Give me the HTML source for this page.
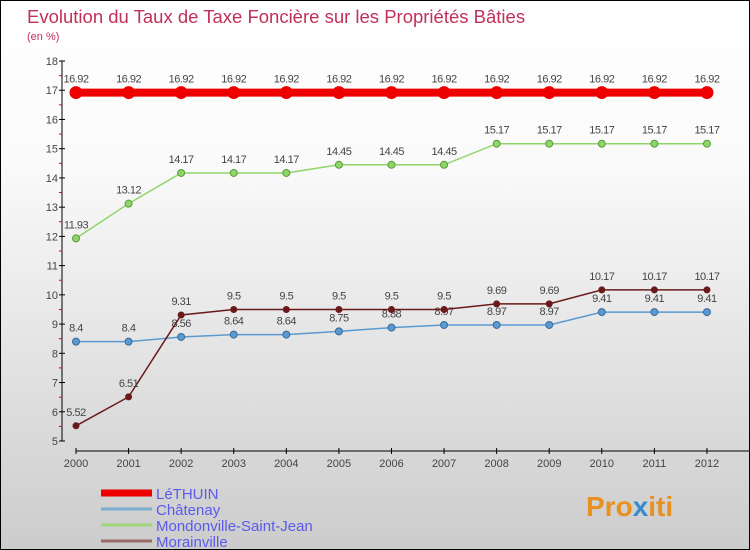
<!DOCTYPE html>
<html><head><meta charset="utf-8"><style>
body{margin:0}
#c{width:750px;height:550px;position:relative;background:linear-gradient(#fff,#fafafa 30%,#ccc);border:1px solid #000;box-sizing:border-box;overflow:hidden;font-family:"Liberation Sans",sans-serif}
</style></head><body>
<div id="c">
<svg id="s" width="750" height="550" xmlns="http://www.w3.org/2000/svg">
<text x="26" y="22" font-size="18.5" fill="#c0305a">Evolution du Taux de Taxe Foncière sur les Propriétés Bâties</text>
<text x="26" y="39" font-size="11" fill="#c0305a">(en %)</text>
<text x="585" y="515" font-size="28" font-weight="bold" fill="#e89020">Pro<tspan fill="#3a8ad0">x</tspan>iti</text>
</svg>
</div>
<script>
const years=[2000,2001,2002,2003,2004,2005,2006,2007,2008,2009,2010,2011,2012];
const yTicks=[5,6,7,8,9,10,11,12,13,14,15,16,17,18];
const seriesNames=["LéTHUIN","Châtenay","Mondonville-Saint-Jean","Morainville"];
const lethuin=[16.92,16.92,16.92,16.92,16.92,16.92,16.92,16.92,16.92,16.92,16.92,16.92,16.92];
const chatenay=[8.4,8.4,8.56,8.64,8.64,8.75,8.88,8.97,8.97,8.97,9.41,9.41,9.41];
const mondonville=[11.93,13.12,14.17,14.17,14.17,14.45,14.45,14.45,15.17,15.17,15.17,15.17,15.17];
const morainville=[5.52,6.51,9.31,9.5,9.5,9.5,9.5,9.5,9.69,9.69,10.17,10.17,10.17];
const s=document.getElementById('s');const NS="http://www.w3.org/2000/svg";
function X(i){return 75+i*52.58}
function Y(v){return 440-(v-5)*29.23}
function mk(t,a,p){const e=document.createElementNS(NS,t);for(const k in a)e.setAttribute(k,a[k]);(p||s).appendChild(e);return e}
let ax=mk('line',{x1:61,y1:60,x2:61,y2:440,stroke:'#000'});


let bx=mk('line',{x1:75,y1:450,x2:750,y2:450,stroke:'#000'});


yTicks.forEach(v=>{mk('line',{x1:58,y1:Y(v),x2:64,y2:Y(v),stroke:'#000'});
if(v<18)mk('line',{x1:58,y1:Y(v+0.5),x2:61,y2:Y(v+0.5),stroke:'#e00'});
const t=mk('text',{x:57,y:Y(v)+4,'font-size':11,fill:'#444','text-anchor':'end'});t.textContent=v;

});
years.forEach((y,i)=>{mk('line',{x1:X(i),y1:447,x2:X(i),y2:453,stroke:'#000'});
const t=mk('text',{x:X(i),y:466,'font-size':11,fill:'#444','text-anchor':'middle'});t.textContent=y;

});
function series(d,col,w,r,name,lc){
const p=mk('polyline',{points:d.map((v,i)=>X(i)+','+Y(v)).join(' '),fill:'none',stroke:col,'stroke-width':w});


d.forEach((v,i)=>{const c=mk('circle',{cx:X(i),cy:Y(v),r:r,fill:col,stroke:lc||'none'});


const t=mk('text',{x:X(i),y:Y(v)-10,'font-size':11,fill:'#444','text-anchor':'middle','letter-spacing':'-0.5'});t.textContent=v;

});}
series(mondonville,'#8ed66a',1.5,3.5,'mondonville','#5a9a3a');
series(chatenay,'#5a9ad0',1.5,3.5,'chatenay','#3a6a9a');
series(morainville,'#6a1a1a',1.5,3.5,'morainville');
series(lethuin,'#ee0000',8,6.5,'lethuin');
const cols=['#ee0000','#7aaed0','#9ed67a','#9a6a6a'],ws=[7,3,3,3];
seriesNames.forEach((n,i)=>{const y=492+i*16;
const l=mk('line',{x1:100,y1:y,x2:151,y2:y,stroke:cols[i],'stroke-width':ws[i]});


const t=mk('text',{x:155,y:y+6,'font-size':15,fill:'#5a5aee'});t.textContent=n;

});
</script>
</body></html>
